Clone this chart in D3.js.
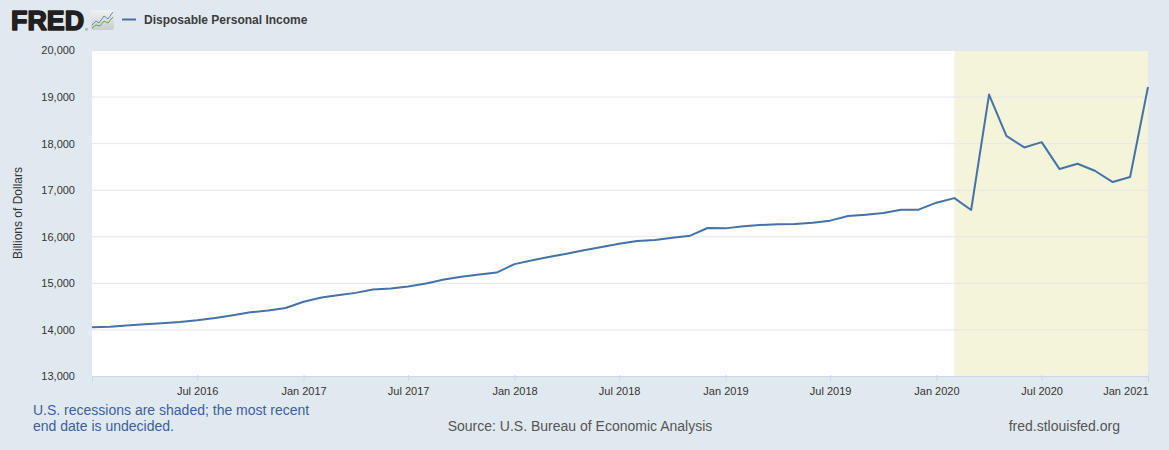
<!DOCTYPE html>
<html lang="en">
<head>
<meta charset="utf-8">
<title>Disposable Personal Income</title>
<script src="https://d3js.org/d3.v7.min.js"></script>
<style>
  body { margin: 0; background: #e1e9f0; }
  text { font-family: "Liberation Sans", Arial, sans-serif; }
</style>
</head>
<body>
<script>
// monthly series, billions of dollars (SAAR), Jan 2016 .. Jan 2021
var startMonth = "2016-01";
var dpi = [
  14049, 14055, 14085, 14113, 14134, 14162, 14198, 14247, 14305, 14369, 14405, 14460,
  14595, 14684, 14733, 14785, 14856, 14877, 14920, 14985, 15071, 15129, 15178, 15221,
  15402, 15484, 15555, 15626, 15699, 15770, 15841, 15899, 15920, 15970, 16013, 16178,
  16170, 16214, 16242, 16257, 16263, 16293, 16336, 16435, 16465, 16500, 16572, 16572,
  16722, 16820, 16565, 19043, 18156, 17908, 18021, 17443, 17557, 17407, 17165, 17272,
  19206
];
var recession = ["2020-02-01", "2021-01-01"];
var yTicks = [13000, 14000, 15000, 16000, 17000, 18000, 19000, 20000];
var xTicks = ["2016-07", "2017-01", "2017-07", "2018-01", "2018-07", "2019-01",
              "2019-07", "2020-01", "2020-07", "2021-01"];

var width = 1169, height = 450;
var margin = {top: 50, right: 21, bottom: 74, left: 92};

var parseMonth = d3.timeParse("%Y-%m");
var parseDay = d3.timeParse("%Y-%m-%d");
var fmtTick = d3.timeFormat("%b %Y");

var t0 = parseMonth(startMonth);
var data = dpi.map(function(v, i) { return {date: d3.timeMonth.offset(t0, i), value: v}; });

var svg = d3.select("body").append("svg")
  .attr("width", width)
  .attr("height", height);

var x = d3.scaleTime()
  .domain([data[0].date, data[data.length - 1].date])
  .range([margin.left, width - margin.right]);

var y = d3.scaleLinear()
  .domain([13000, 20000])
  .range([height - margin.bottom, margin.top]);

// plot background
svg.append("rect")
  .attr("x", margin.left)
  .attr("y", margin.top)
  .attr("width", width - margin.right - margin.left)
  .attr("height", height - margin.bottom - margin.top)
  .attr("fill", "#ffffff");

// recession band
svg.append("rect")
  .attr("x", x(parseDay(recession[0])))
  .attr("y", margin.top)
  .attr("width", x(parseDay(recession[1])) - x(parseDay(recession[0])))
  .attr("height", height - margin.bottom - margin.top)
  .attr("fill", "#f4f4da");

// gridlines
svg.append("g")
  .selectAll("line")
  .data(yTicks.slice(1))
  .enter()
  .append("line")
  .attr("x1", margin.left)
  .attr("x2", width - margin.right)
  .attr("y1", function(d) { return y(d) + 0.5; })
  .attr("y2", function(d) { return y(d) + 0.5; })
  .attr("stroke", "#e6e6e6")
  .attr("stroke-width", 1);

// y axis labels
var yAxis = svg.append("g")
  .attr("transform", "translate(" + (margin.left - 14) + ",0)")
  .call(d3.axisLeft(y).tickValues(yTicks).tickSize(0).tickFormat(d3.format(",")));
yAxis.select(".domain").remove();
yAxis.selectAll("text")
  .attr("fill", "#333333")
  .attr("font-size", "11px")
  .attr("dy", "0.35em");

// x axis
var xAxis = svg.append("g")
  .attr("transform", "translate(0," + (height - margin.bottom) + ")")
  .call(d3.axisBottom(x)
    .tickValues(xTicks.map(parseMonth))
    .tickSize(6)
    .tickPadding(5)
    .tickFormat(fmtTick));
xAxis.select(".domain")
  .attr("stroke", "#ccd6eb");
xAxis.selectAll(".tick line")
  .attr("stroke", "#ccd6eb")
  .attr("transform", "translate(0,-1)");
xAxis.selectAll("text")
  .attr("fill", "#333333")
  .attr("font-size", "11px")
  .attr("text-anchor", function(d, i) { return i === xTicks.length - 1 ? "end" : "middle"; });

// axis title
svg.append("text")
  .attr("transform", "translate(22," + ((margin.top + height - margin.bottom) / 2) + ") rotate(-90)")
  .attr("text-anchor", "middle")
  .attr("font-size", "12px")
  .attr("fill", "#333333")
  .text("Billions of Dollars");

// series line
var line = d3.line()
  .x(function(d) { return x(d.date); })
  .y(function(d) { return y(d.value); });

svg.append("path")
  .datum(data)
  .attr("fill", "none")
  .attr("stroke", "#4572a7")
  .attr("stroke-width", 2)
  .attr("stroke-linejoin", "round")
  .attr("d", line);

// FRED logo (heavy wordmark + small chart icon)
var logo = svg.append("g");
logo.append("text")
  .attr("x", 11)
  .attr("y", 30)
  .attr("font-size", "27px")
  .attr("font-weight", "bold")
  .attr("fill", "#231f20")
  .attr("stroke", "#231f20")
  .attr("stroke-width", 1.6)
  .attr("stroke-linejoin", "round")
  .attr("textLength", 73)
  .attr("lengthAdjust", "spacingAndGlyphs")
  .text("FRED");
logo.append("text")
  .attr("x", 85)
  .attr("y", 31)
  .attr("font-size", "4px")
  .attr("fill", "#231f20")
  .text("®");
var grad = svg.append("defs").append("linearGradient")
  .attr("id", "iconbg")
  .attr("x1", 0).attr("y1", 0).attr("x2", 0).attr("y2", 1);
grad.append("stop").attr("offset", "0%").attr("stop-color", "#f2f2f2");
grad.append("stop").attr("offset", "100%").attr("stop-color", "#c9cdd0");
logo.append("rect")
  .attr("x", 91).attr("y", 10).attr("width", 23).attr("height", 20)
  .attr("rx", 2).attr("fill", "url(#iconbg)");
logo.append("path")
  .attr("d", "M92,25 L96,21 L99,23 L104,16 L108,19 L113,12")
  .attr("fill", "none").attr("stroke", "#5b8cc4").attr("stroke-width", 1);
logo.append("path")
  .attr("d", "M92,28 L96,25 L100,26 L104,21 L108,23 L113,17")
  .attr("fill", "none").attr("stroke", "#6aa43a").attr("stroke-width", 1);

// legend
svg.append("line")
  .attr("x1", 122).attr("x2", 136)
  .attr("y1", 19.5).attr("y2", 19.5)
  .attr("stroke", "#4572a7")
  .attr("stroke-width", 2);
svg.append("text")
  .attr("x", 144)
  .attr("y", 24)
  .attr("font-size", "12px")
  .attr("font-weight", "bold")
  .attr("fill", "#3c3c3c")
  .text("Disposable Personal Income");

// footer
var note = svg.append("text")
  .attr("x", 33)
  .attr("y", 415)
  .attr("font-size", "14px")
  .attr("fill", "#3a5f9f");
note.append("tspan").attr("x", 33).text("U.S. recessions are shaded; the most recent");
note.append("tspan").attr("x", 33).attr("dy", 16).text("end date is undecided.");

svg.append("text")
  .attr("x", 580)
  .attr("y", 431)
  .attr("text-anchor", "middle")
  .attr("font-size", "14px")
  .attr("fill", "#555555")
  .text("Source: U.S. Bureau of Economic Analysis");

svg.append("text")
  .attr("x", 1120)
  .attr("y", 431)
  .attr("text-anchor", "end")
  .attr("font-size", "14px")
  .attr("fill", "#555555")
  .text("fred.stlouisfed.org");
</script>
</body>
</html>
